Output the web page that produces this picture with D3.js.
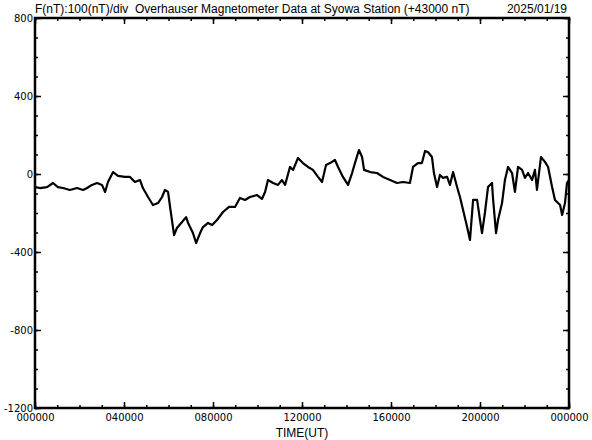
<!DOCTYPE html>
<html>
<head>
<meta charset="utf-8">
<script src="https://cdn.jsdelivr.net/npm/d3@7"></script>
<style>
  html, body { margin: 0; padding: 0; background: #fff; }
  svg { display: block; }
</style>
</head>
<body>
<svg id="chart" width="592" height="440"></svg>
<script>
// ---- data (hours UT, nT relative to 43000 nT) ----
const timeHours = [0,0.22,0.54,0.81,1.03,1.26,1.57,1.89,2.16,2.34,2.56,2.79,3.01,3.15,3.28,3.51,3.73,4.04,4.27,4.49,4.72,4.85,5.08,5.30,5.53,5.71,5.84,5.98,6.07,6.20,6.25,6.38,6.61,6.79,6.88,7.10,7.24,7.42,7.55,7.78,7.96,8.18,8.45,8.72,8.99,9.21,9.44,9.66,9.98,10.20,10.34,10.47,10.70,10.92,11.10,11.24,11.46,11.60,11.82,12.04,12.27,12.49,12.72,12.90,13.08,13.26,13.48,13.62,13.84,14.07,14.25,14.38,14.56,14.70,14.79,15.06,15.37,15.64,15.96,16.27,16.54,16.85,16.99,17.21,17.39,17.53,17.66,17.84,17.93,18.07,18.20,18.34,18.52,18.65,18.79,18.97,19.10,19.24,19.42,19.55,19.69,19.87,20.00,20.09,20.22,20.36,20.54,20.58,20.72,20.81,20.99,21.12,21.26,21.44,21.57,21.71,21.89,22.02,22.16,22.34,22.47,22.56,22.74,22.92,23.06,23.24,23.37,23.60,23.69,23.82,23.91,24.0];
const fValues = [-67,-72,-67,-46,-67,-72,-82,-72,-82,-72,-56,-46,-56,-92,-41,10,-10,-15,-15,-41,-31,-72,-118,-159,-149,-118,-82,-92,-169,-272,-313,-277,-246,-221,-251,-303,-354,-303,-272,-251,-262,-236,-195,-169,-169,-123,-133,-118,-108,-128,-92,-31,-46,-56,-31,-56,36,21,82,56,36,21,-15,-41,46,56,72,36,-15,-56,5,56,123,87,21,10,5,-15,-31,-46,-41,-46,36,56,56,118,113,87,5,-67,-5,-20,-15,-56,10,-67,-118,-185,-272,-338,-133,-133,-236,-303,-200,-67,-46,-118,-303,-236,-149,-31,36,5,-92,36,21,-20,5,-31,21,-82,87,62,36,-67,-133,-159,-210,-149,-46,-31];
const xMajorTicks = [0,4,8,12,16,20,24];
const xTickLabels = ["000000","040000","080000","120000","160000","200000","000000"];
const yMajorTicks = [800,400,0,-400,-800,-1200];
const yTickLabels = ["800","400","0","-400","-800","-1200"];
const titleText = "F(nT):100(nT)/div  Overhauser Magnetometer Data at Syowa Station (+43000 nT)";
const dateText = "2025/01/19";
const xAxisTitle = "TIME(UT)";

const svg = d3.select("#chart");
const L = 35, R = 569, T = 18, B = 408;

const x = d3.scaleLinear().domain([0, 24]).range([L, R]);
const y = d3.scaleLinear().domain([-1200, 800]).range([B, T]);

const minorX = d3.range(0, 25, 1);
const minorY = d3.range(-1200, 801, 100);

const tickFont = "'DejaVu Sans', sans-serif";

function styleAxis(g) {
  g.select(".domain").remove();
  g.selectAll("line").attr("stroke", "#000").attr("stroke-width", 1.5);
}

// bottom minor
svg.append("g").attr("transform", `translate(0,${B})`)
  .call(d3.axisBottom(x).tickValues(minorX).tickSize(-3).tickFormat(""))
  .call(styleAxis);
// bottom major with labels
svg.append("g").attr("transform", `translate(0,${B})`)
  .call(d3.axisBottom(x).tickValues(xMajorTicks).tickSize(-6).tickPadding(6)
        .tickFormat((d, i) => xTickLabels[i]))
  .call(styleAxis)
  .call(g => g.selectAll("text").attr("font-family", tickFont).attr("font-size", 10).attr("fill", "#000"));
// top minor and major
svg.append("g").attr("transform", `translate(0,${T})`)
  .call(d3.axisTop(x).tickValues(minorX).tickSize(-3).tickFormat(""))
  .call(styleAxis);
svg.append("g").attr("transform", `translate(0,${T})`)
  .call(d3.axisTop(x).tickValues(xMajorTicks).tickSize(-6).tickFormat(""))
  .call(styleAxis);
// left
svg.append("g").attr("transform", `translate(${L},0)`)
  .call(d3.axisLeft(y).tickValues(minorY).tickSize(-3).tickFormat(""))
  .call(styleAxis);
svg.append("g").attr("transform", `translate(${L},0)`)
  .call(d3.axisLeft(y).tickValues(yMajorTicks).tickSize(-6).tickPadding(2)
        .tickFormat((d, i) => yTickLabels[i]))
  .call(styleAxis)
  .call(g => g.selectAll("text").attr("font-family", tickFont).attr("font-size", 10).attr("fill", "#000")
        .attr("x", -2));
// right
svg.append("g").attr("transform", `translate(${R},0)`)
  .call(d3.axisRight(y).tickValues(minorY).tickSize(-3).tickFormat(""))
  .call(styleAxis);
svg.append("g").attr("transform", `translate(${R},0)`)
  .call(d3.axisRight(y).tickValues(yMajorTicks).tickSize(-6).tickFormat(""))
  .call(styleAxis);

// frame
svg.append("rect")
  .attr("x", L).attr("y", T).attr("width", R - L).attr("height", B - T)
  .attr("fill", "none").attr("stroke", "#000").attr("stroke-width", 2.5);

// data line
const pts = timeHours.map((t, i) => [t, fValues[i]]);
svg.append("path")
  .datum(pts)
  .attr("fill", "none")
  .attr("stroke", "#000")
  .attr("stroke-width", 2.2)
  .attr("stroke-linejoin", "round")
  .attr("d", d3.line().x(d => x(d[0])).y(d => y(d[1])));

// titles
svg.append("text").attr("x", L).attr("y", 13)
  .attr("font-family", "'Liberation Sans', Arial, sans-serif").attr("font-size", 12)
  .style("white-space", "pre")
  .text(titleText);
svg.append("text").attr("x", R - 2).attr("y", 13).attr("text-anchor", "end")
  .attr("font-family", "'Liberation Sans', Arial, sans-serif").attr("font-size", 12)
  .text(dateText);
svg.append("text").attr("x", (L + R) / 2).attr("y", 437).attr("text-anchor", "middle")
  .attr("font-family", "'Liberation Sans', Arial, sans-serif").attr("font-size", 12)
  .text(xAxisTitle);
</script>
</body>
</html>
